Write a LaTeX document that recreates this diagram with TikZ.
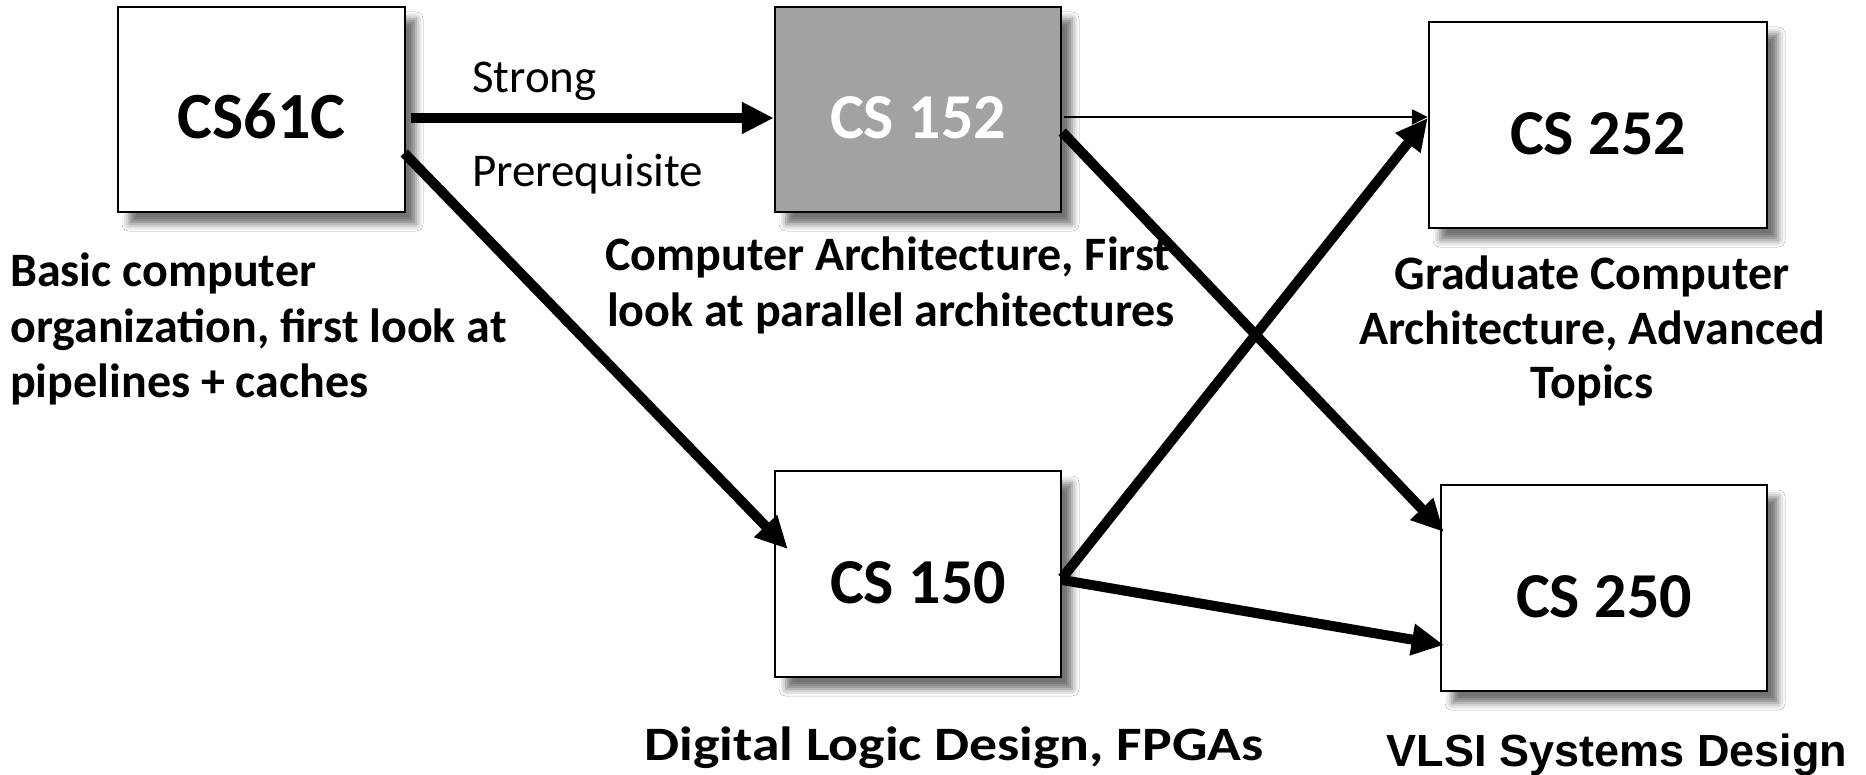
\documentclass[tikz,border=0pt]{standalone}
\usepackage{fontspec}
\setmainfont{Carlito}
\newfontfamily\headfont{Liberation Sans}
\usetikzlibrary{arrows.meta,calc,shadows.blur}
\definecolor{boxgray}{HTML}{A2A2A2}
\tikzset{
  course/.style={draw=black, line width=2.5pt, fill=white, inner sep=0pt,
    minimum height=205pt, text height=59pt, text depth=0pt,
    font=\fontsize{64}{70}\selectfont\bfseries,
    blur shadow={shadow xshift=11pt, shadow yshift=-12pt,
      shadow blur radius=7pt, shadow opacity=55}},
  desc/.style={font=\fontsize{48}{56}\selectfont\bfseries, inner sep=0pt},
  note/.style={font=\fontsize{47}{54}\selectfont, inner sep=0pt},
  bigarrow/.style={line width=10pt, -{Triangle[length=32pt,width=30pt]}},
  thinarrow/.style={line width=2.5pt, -{Triangle[length=16pt,width=15pt]}},
}
\begin{document}
\begin{tikzpicture}[x=1pt,y=-1pt]
  \fill[white] (0,0) rectangle (1866,775);
  \useasboundingbox (0,0) rectangle (1866,775);

  % course boxes
  \node[course, minimum width=287pt, font=\fontsize{66}{72}\selectfont\bfseries] (cs61c) at (261.5,109.5) {CS61C};
  \node[course, fill=boxgray, text=white, minimum width=286pt] (cs152) at (918,109.5) {CS 152};
  \node[course, minimum width=286pt, minimum height=206pt] (cs150) at (918,574) {CS 150};
  \node[course, minimum width=338pt, minimum height=206pt] (cs252) at (1598,125) {CS 252};
  \node[course, minimum width=326pt, minimum height=206pt] (cs250) at (1604,588) {CS 250};

  % course descriptions
  \node[desc, anchor=base west] (b1) at (10,287) {Basic computer};
  \node[desc, anchor=base west] (b2) at (10,342.5) {organization, first look at};
  \node[desc, anchor=base west] (b3) at (10,398) {pipelines + caches};

  \node[desc, anchor=base] (c1) at (888,271) {Computer Architecture, First};
  \node[desc, anchor=base] (c2) at (891,327) {look at parallel architectures};

  \node[desc, anchor=base] (g1) at (1592,290) {Graduate Computer};
  \node[desc, anchor=base] (g2) at (1592,344.5) {Architecture, Advanced};
  \node[desc, anchor=base] (g3) at (1592,399) {Topics};

  \node[desc, xscale=1.16, anchor=base] (d1) at (954,760) {Digital Logic Design, FPGAs};

  \node[inner sep=0pt, font=\headfont\bfseries\fontsize{45}{52}\selectfont,
        anchor=base] (v1) at (1617,766) {VLSI Systems Design};

  % edge label
  \node[note, anchor=base west] (s1) at (472,93) {Strong};
  \node[note, anchor=base west] (s2) at (472,187) {Prerequisite};

  % prerequisite arrows
  \draw[bigarrow] ($(cs61c.east)+(5,8.5)$) -- ($(cs152.west)+(0,8.5)$);
  \draw[thinarrow] ($(cs152.east)+(2,7.5)$) -- ($(cs252.west)+(0,-8)$);
  \draw[bigarrow] ($(cs61c.east)+(-2,43.5)$) -- ($(cs150.west)+(14,-25)$);
  \draw[bigarrow] ($(cs152.east)+(0,22.5)$) -- ($(cs250.west)+(4,-56)$);
  \draw[bigarrow] ($(cs150.east)+(0,4)$) -- ($(cs252.west)+(0,-7)$);
  \draw[bigarrow] ($(cs150.east)+(0,6)$) -- ($(cs250.west)+(4,57)$);
\end{tikzpicture}
\end{document}
